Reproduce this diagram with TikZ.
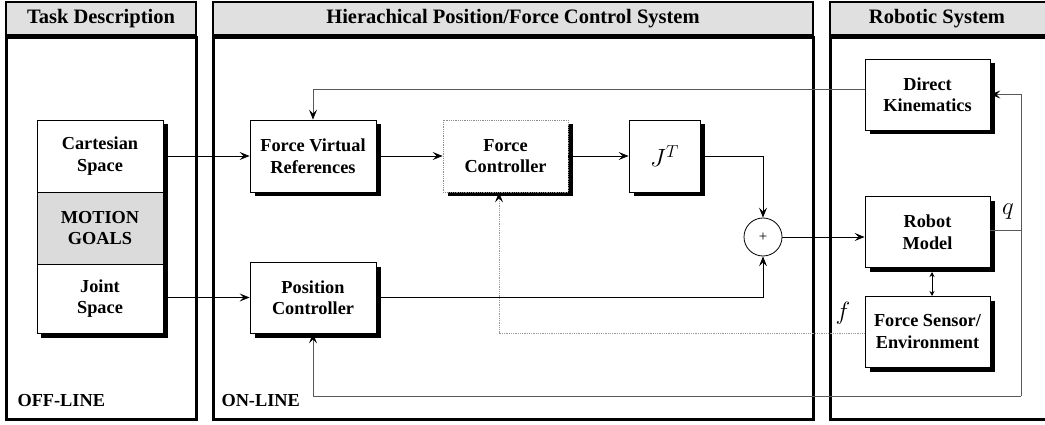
\documentclass[tikz,border=0pt]{standalone}
\usepackage{fontspec}
\setmainfont{Liberation Serif}
\usetikzlibrary{arrows.meta,shadows,backgrounds}
\newcommand\bxfont{\fontsize{18.3}{21.5}\selectfont\bfseries}
\newcommand\hdfont{\fontsize{20.5}{24}\selectfont\bfseries}
\begin{document}
\begin{tikzpicture}[x=1pt,y=-1pt,
  hdr/.style={draw=black, line width=1.5pt, fill=black!12, font=\hdfont, minimum height=33pt, inner sep=0pt},
  pnl/.style={draw=black, line width=3pt},
  blk/.style={draw=black, line width=0.8pt, fill=white, minimum width=126pt, minimum height=71pt, align=center, font=\bxfont, inner sep=2pt},
  shd/.style={blk, drop shadow={shadow xshift=4.5pt,shadow yshift=-4.5pt,opacity=1,fill=black}},
  arr/.style={-{Stealth[length=10pt,width=8pt,inset=4pt,color=black]}, line width=0.8pt},
  fb/.style={arr, draw=black!65},
  lbl/.style={font=\bxfont, anchor=west}]
\useasboundingbox (0,0) rectangle (1045,425);
\clip (0,0) rectangle (1045,425);
% panels
\draw[pnl] (6,37.5) rectangle (196,419.5);
\draw[pnl] (213,37.5) rectangle (813,419.5);
\draw[pnl] (830,37.5) rectangle (1060,419.5);
\node[hdr, minimum width=190pt] (h1) at (101,18.5) {Task Description};
\node[hdr, minimum width=600pt] (h2) at (513,18.5) {Hierachical Position/Force Control System};
\node[hdr, minimum width=230pt] (h3) at (945,18.5) {};
\node[font=\hdfont] (h3t) at (937,18.5) {Robotic System};
\node[lbl] (off) at (14,401) {OFF-LINE};
\node[lbl] (on) at (218,401) {ON-LINE};
% task description stack
\node[blk, minimum height=72pt] (cart) at (100,156) {Cartesian\\Space};
\node[blk, minimum height=72pt, fill=black!14] (mot) at (100,228) {MOTION\\GOALS};
\node[blk, minimum height=69pt] (joint) at (100,298.5) {Joint\\Space};
\begin{scope}[on background layer]
\fill[black] ([shift={(4.5pt,-4.5pt)}]cart.north west) rectangle ([shift={(4.5pt,-4.5pt)}]joint.south east);
\end{scope}
% controller blocks
\node[shd, minimum height=72pt] (fvr) at (313,156) {Force Virtual\\References};
\node[shd, minimum height=72pt, minimum width=125pt, draw=black!45, densely dotted] (fc) at (505.5,156) {};
\node[font=\bxfont, align=center] (fct) at (fc) {Force\\Controller};
\node[shd, minimum height=72pt, minimum width=71pt] (jt) at (664.5,156) {\fontsize{24}{26}\selectfont$J^T$};
\node[circle, draw, line width=0.8pt, minimum size=38pt, inner sep=0pt, fill=white, font=\fontsize{15}{16}\selectfont] (sum) at (763,237) {+};
\node[shd] (pc) at (313,297.5) {Position\\Controller};
% robotic system
\node[shd, minimum width=125pt] (dk) at (927.5,94.5) {Direct\\Kinematics};
\node[shd, minimum width=125pt] (rm) at (927.5,232) {Robot\\Model};
\node[shd, minimum width=125pt] (fs) at (927.5,331.5) {Force Sensor/\\Environment};
\node[font=\fontsize{25}{28}\selectfont] (ql) at (1008,212) {$q$};
\node[font=\fontsize{25}{28}\selectfont] (fl) at (843,313) {$f$};
% connectors
\coordinate (qr) at (1021,230);
\coordinate (qb) at (1021,396);
\coordinate (rmt) at (932,272);
\coordinate (fst) at (932,296);
\draw[arr] (cart.east) -- (fvr.west);
\draw[arr] (joint.east |- pc.west) -- (pc.west);
\draw[arr] (fvr.east) -- (fc.west);
\draw[arr] (fc.east) -- (jt.west);
\draw[arr] (jt.east) -| (sum.north);
\draw[arr] (pc.east) -| (sum.south);
\draw[arr] (sum.east) -- (rm.west |- sum.east);
\draw[fb] (rm.east |- qr) -- (qr) -- (qr |- dk.east) -- (dk.east);
\draw[fb, -] (qr) -- (qb);
\draw[fb] (qb) -| (pc.south);
\draw[fb] ([yshift=5.5pt]dk.west) -| (fvr.north);
\draw[fb, draw=black!40, densely dotted] ([yshift=-1.5pt]fs.west) -| ([xshift=-6.5pt]fc.south);
\draw[{Stealth[length=5pt,width=5pt]}-{Stealth[length=5pt,width=5pt]}, line width=0.8pt] (rmt) -- (fst);
\end{tikzpicture}
\end{document}
